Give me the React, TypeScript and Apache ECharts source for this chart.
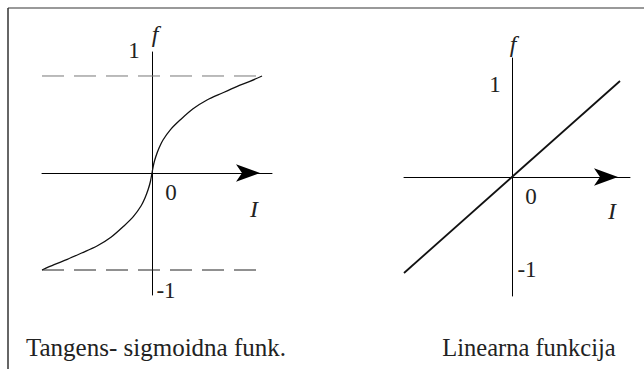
import React, { useEffect, useRef } from "react";
import * as echarts from "echarts";

// Left panel: tangent-sigmoid curve
const sigmoidI = [-1, -0.89, -0.77, -0.64, -0.5, -0.37, -0.255, -0.17, -0.1, -0.065, -0.035, -0.015, 0, 0.015, 0.035, 0.065, 0.1, 0.17, 0.255, 0.37, 0.5, 0.64, 0.77, 0.89, 1];
const sigmoidF = [-1, -0.945, -0.89, -0.825, -0.753, -0.66, -0.546, -0.45, -0.34, -0.26, -0.17, -0.09, 0, 0.09, 0.17, 0.26, 0.34, 0.45, 0.546, 0.66, 0.753, 0.825, 0.89, 0.945, 1];
const asymptotes = [1, -1];
// Right panel: linear function
const linearI = [-1, 1];
const linearF = [-1, 1];
const captions = ["Tangens- sigmoidna funk.", "Linearna funkcija"];
const tickLabels = ["1", "0", "-1"];
const axisNames = ["f", "I"];

const SERIF = "Liberation Serif";

export default function App() {
  const ref = useRef<HTMLDivElement>(null);
  useEffect(() => {
    if (!ref.current) return;
    const chart = echarts.init(ref.current, undefined, { renderer: "svg" });
    const axisLine = { show: true, onZero: true, lineStyle: { color: "#000", width: 1 } };
    const xAxisBase = {
      type: "value" as const,
      axisLine: { ...axisLine, symbol: ["none", "arrow"], symbolSize: [13, 24], symbolOffset: [0, -12] },
      axisTick: { show: false },
      axisLabel: { show: false },
      splitLine: { show: false },
    };
    const yAxisBase = {
      type: "value" as const,
      axisLine,
      axisTick: { show: false },
      axisLabel: { show: false },
      splitLine: { show: false },
    };
    const txt = (x: number, y: number, text: string, size: number, italic = false) => ({
      type: "text",
      x,
      y,
      style: {
        text,
        fill: "#222",
        fontFamily: SERIF,
        fontSize: size,
        fontStyle: italic ? "italic" : "normal",
        align: "center",
        verticalAlign: "middle",
      },
    });
    const option = {
      animation: false,
      textStyle: { fontFamily: SERIF },
      grid: [
        { left: 42, top: 52, width: 230, height: 243 },
        { left: 404, top: 58, width: 226, height: 238 },
      ],
      xAxis: [
        { ...xAxisBase, gridIndex: 0, min: -1, max: 1.0909 },
        { ...xAxisBase, gridIndex: 1, min: -1, max: 1.0926 },
      ],
      yAxis: [
        { ...yAxisBase, gridIndex: 0, min: -1.2577, max: 1.2474 },
        { ...yAxisBase, gridIndex: 1, min: -1.2396, max: 1.2396 },
      ],
      series: [
        {
          type: "line",
          xAxisIndex: 0,
          yAxisIndex: 0,
          data: sigmoidI.map((v, i) => [v, sigmoidF[i]]),
          smooth: 0.3,
          symbol: "none",
          lineStyle: { color: "#111", width: 1.3 },
        },
        ...asymptotes.map((a, k) => ({
          type: "line",
          xAxisIndex: 0,
          yAxisIndex: 0,
          data: [[-1, a], [1, a]],
          symbol: "none",
          lineStyle: { color: k === 0 ? "#777" : "#222", width: 1, type: [22, 10] },
        })),
        {
          type: "line",
          xAxisIndex: 1,
          yAxisIndex: 1,
          data: linearI.map((v, i) => [v, linearF[i]]),
          symbol: "none",
          lineStyle: { color: "#111", width: 1.8 },
        },
      ],
      graphic: [
        { type: "line", shape: { x1: 8, y1: 8, x2: 644, y2: 8 }, style: { stroke: "#777", lineWidth: 1.5 } },
        { type: "line", shape: { x1: 8, y1: 8, x2: 8, y2: 369 }, style: { stroke: "#333", lineWidth: 1.5 } },
        txt(155, 34, axisNames[0], 24, true),
        txt(134, 50, tickLabels[0], 23),
        txt(171, 192, tickLabels[1], 23),
        txt(254, 209, axisNames[1], 24, true),
        txt(166, 290, tickLabels[2], 23),
        txt(156, 347, captions[0], 25),
        txt(513, 44, axisNames[0], 24, true),
        txt(495, 84, tickLabels[0], 23),
        txt(531, 196, tickLabels[1], 23),
        txt(612, 211, axisNames[1], 24, true),
        txt(527, 269, tickLabels[2], 23),
        txt(529, 347, captions[1], 24.5),
      ],
    };
    chart.setOption(option as any);
    return () => chart.dispose();
  }, []);
  return (
    <>
      <style>{`.serif-chart svg text, .serif-chart svg tspan { font-family: "Liberation Serif", "Times New Roman", serif !important; }`}</style>
      <div
        ref={ref}
        className="serif-chart"
        style={{ position: "fixed", left: 0, top: 0, width: 644, height: 369, background: "#fff" }}
      />
    </>
  );
}
